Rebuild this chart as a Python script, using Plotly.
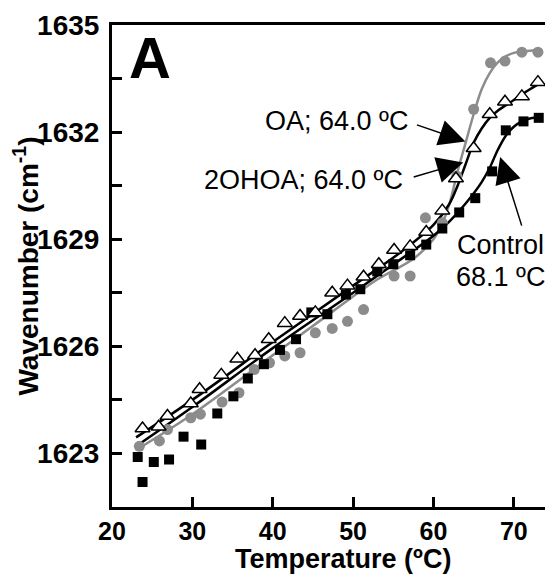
import plotly.graph_objects as go

# --- data ---
ctrl_t = [23.2, 23.8, 25.2, 27.1, 28.9, 31.1, 33.1, 35.1, 36.9, 38.9, 40.9, 42.9, 44.8, 46.8,
          49.1, 50.9, 53.0, 55.0, 57.1, 59.1, 61.1, 63.2, 65.2, 67.3, 69.0, 71.2, 73.1]
ctrl_w = [1622.9, 1622.2, 1622.76, 1622.83, 1623.47, 1623.25, 1624.12, 1624.6, 1625.1, 1625.5,
          1625.9, 1626.2, 1626.95, 1626.9, 1627.45, 1627.6, 1628.1, 1628.3, 1628.55, 1628.85,
          1629.3, 1629.75, 1630.15, 1630.9, 1632.05, 1632.3, 1632.4]

ohoa_t = [23.8, 25.8, 26.9, 29.8, 30.9, 33.6, 35.6, 37.8, 39.5, 41.5, 43.4, 45.3, 47.4, 49.3,
          51.3, 53.2, 55.1, 57.1, 59.1, 61.1, 62.8, 65.0, 67.0, 68.9, 71.0, 73.0]
ohoa_w = [1623.7, 1623.75, 1624.05, 1624.4, 1624.8, 1625.2, 1625.65, 1625.75, 1626.2, 1626.65,
          1626.85, 1626.95, 1627.5, 1627.7, 1627.95, 1628.3, 1628.7, 1628.8, 1629.2, 1629.8,
          1630.7, 1631.55, 1632.5, 1632.85, 1633.0, 1633.4]

oa_t = [23.4, 25.9, 26.9, 29.8, 31.0, 33.7, 35.8, 37.7, 39.6, 41.5, 43.4, 45.3, 47.4, 49.3,
        51.3, 53.2, 55.1, 57.1, 59.0, 61.1, 62.9, 65.0, 67.1, 68.9, 71.0, 73.0]
oa_w = [1623.2, 1623.35, 1623.67, 1624.0, 1624.1, 1624.44, 1624.7, 1625.35, 1625.54, 1625.73,
        1625.82, 1626.38, 1626.5, 1626.7, 1627.03, 1628.2, 1627.97, 1627.97, 1629.6, 1629.46,
        1630.77, 1632.64, 1633.94, 1633.99, 1634.24, 1634.24]

# fitted curves
ctrl_fit_t = [23.0, 30.0, 40.0, 50.0, 56.0, 60.0, 62.0, 64.0, 66.0, 67.0, 68.0, 69.0, 70.0, 71.0, 72.0, 73.5]
ctrl_fit_w = [1623.2, 1624.3, 1625.95, 1627.5, 1628.45, 1629.1, 1629.5, 1630.0, 1630.6, 1631.0,
              1631.5, 1631.9, 1632.15, 1632.3, 1632.38, 1632.43]
ohoa_fit_t = [23.0, 30.0, 40.0, 50.0, 56.0, 60.0, 62.0, 63.0, 64.0, 65.0, 66.0, 67.0, 68.0, 70.0, 72.0, 73.5]
ohoa_fit_w = [1623.45, 1624.5, 1626.12, 1627.7, 1628.65, 1629.4, 1630.0, 1630.5, 1631.1, 1631.7,
              1632.1, 1632.4, 1632.6, 1632.9, 1633.2, 1633.4]
oa_fit_t = [23.0, 30.0, 40.0, 47.6, 53.0, 57.5, 60.0, 61.0, 62.0, 63.0, 64.0, 65.0, 66.0, 67.0,
            68.0, 69.0, 70.0, 72.0, 73.5]
oa_fit_w = [1623.1, 1624.1, 1625.75, 1627.0, 1627.87, 1628.45, 1629.0, 1629.4, 1630.0, 1630.9,
            1631.7, 1632.5, 1633.2, 1633.65, 1633.95, 1634.12, 1634.22, 1634.28, 1634.3]

x_ticks = [20, 30, 40, 50, 60, 70]
y_ticks = [1623, 1624.5, 1626, 1627.5, 1629, 1630.5, 1632, 1633.5, 1635]
y_ticktext = ["1623", "", "1626", "", "1629", "", "1632", "", "1635"]

FONT = "Liberation Sans, Arial"

fig = go.Figure()

fig.add_trace(go.Scatter(x=oa_fit_t, y=oa_fit_w, mode="lines", line=dict(color="#8c8c8c", width=2.5, shape="spline"), showlegend=False))
fig.add_trace(go.Scatter(x=ctrl_fit_t, y=ctrl_fit_w, mode="lines", line=dict(color="black", width=2.5, shape="spline"), showlegend=False))
fig.add_trace(go.Scatter(x=ohoa_fit_t, y=ohoa_fit_w, mode="lines", line=dict(color="black", width=2.5, shape="spline"), showlegend=False))

fig.add_trace(go.Scatter(x=oa_t, y=oa_w, mode="markers",
                         marker=dict(symbol="circle", size=11, color="#8c8c8c"), showlegend=False))
fig.add_trace(go.Scatter(x=ctrl_t, y=ctrl_w, mode="markers",
                         marker=dict(symbol="square", size=10, color="black"), showlegend=False))
fig.add_trace(go.Scatter(x=ohoa_t, y=ohoa_w, mode="markers",
                         marker=dict(symbol="triangle-up", size=13, color="white",
                                     line=dict(width=1.5, color="black")), showlegend=False))

txt_font = dict(family=FONT, size=27, color="black")
ann = [
    dict(x=57.1, y=1632.3, text="OA; 64.0 ºC", showarrow=False, xanchor="right", font=txt_font),
    dict(x=56.5, y=1630.67, text="2OHOA; 64.0 ºC", showarrow=False, xanchor="right", font=txt_font),
    dict(x=68.3, y=1628.85, text="Control", showarrow=False, xanchor="center", font=txt_font),
    dict(x=68.3, y=1627.93, text="68.1 ºC", showarrow=False, xanchor="center", font=txt_font),
    dict(x=63.97, y=1631.74, text="", showarrow=True, ax=-50, ay=-17, arrowhead=2, arrowsize=3.5,
         arrowwidth=1.5, arrowcolor="black", xref="x", yref="y"),
    dict(x=63.7, y=1631.15, text="", showarrow=True, ax=-51, ay=15, arrowhead=2, arrowsize=3.5,
         arrowwidth=1.5, arrowcolor="black", xref="x", yref="y"),
    dict(x=68.3, y=1631.3, text="", showarrow=True, ax=22, ay=70, arrowhead=2, arrowsize=3.5,
         arrowwidth=1.5, arrowcolor="black", xref="x", yref="y"),
    dict(x=0.035, y=1.004, xref="paper", yref="paper", text="<b>A</b>", showarrow=False,
         xanchor="left", yanchor="top", font=dict(family=FONT, size=58, color="black")),
    dict(x=48.7, y=-0.108, xref="x", yref="paper", text="<b>Temperature (ºC)</b>", showarrow=False,
         xanchor="center", yanchor="middle", font=dict(family=FONT, size=27, color="black")),
]
fig.update_layout(annotations=ann)

# the page body has an 8px margin, so the figure is 8px smaller than the window
fig.update_layout(
    width=545, height=569,
    margin=dict(l=104, r=3, t=17, b=70),
    paper_bgcolor="white", plot_bgcolor="white",
    font=dict(family=FONT, color="black"),
    xaxis=dict(range=[20, 74.5], tickvals=x_ticks, ticks="inside", ticklen=10, tickwidth=2.5,
               tickcolor="black", showline=True, linewidth=3, linecolor="black", mirror=True,
               showgrid=False, zeroline=False, automargin=False, ticklabelstandoff=0,
               tickfont=dict(family=FONT, size=25, color="black", weight="bold")),
    yaxis=dict(range=[1621.5, 1635], tickvals=y_ticks, ticktext=y_ticktext, ticks="inside",
               ticklen=10, tickwidth=2.5, tickcolor="black", showline=True, linewidth=3,
               linecolor="black", mirror=True, showgrid=False, zeroline=False, automargin=False,
               ticklabelstandoff=4,
               tickfont=dict(family=FONT, size=28, color="black", weight="bold"),
               title=dict(text="<b>Wavenumber (cm<sup>-1</sup>)</b>", standoff=2,
                          font=dict(family=FONT, size=28, color="black"))),
)

fig.write_html("out.html")
